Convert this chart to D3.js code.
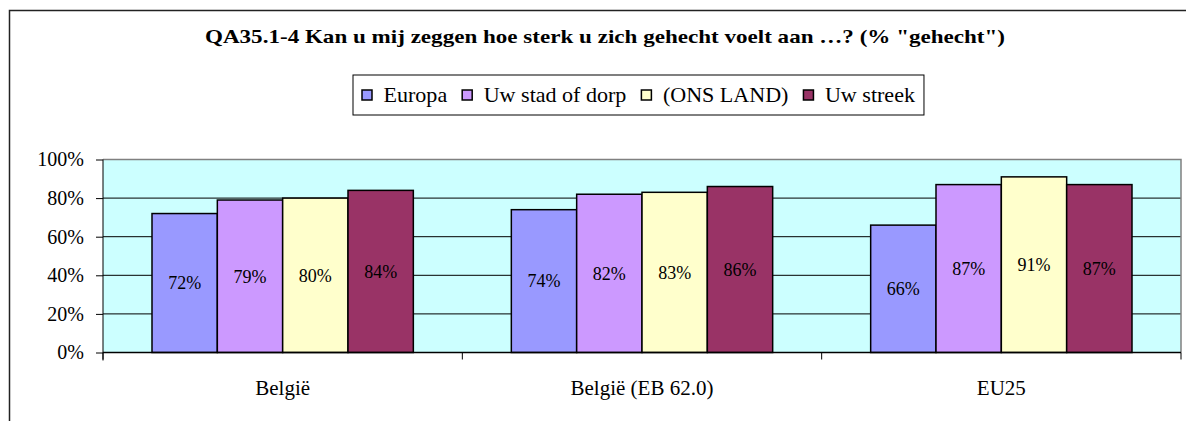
<!DOCTYPE html>
<html>
<head>
<meta charset="utf-8">
<script src="https://cdn.jsdelivr.net/npm/d3@7"></script>
<style>
  body { margin: 0; background: #fff; }
  svg { display: block; font-family: "Liberation Serif", "Times New Roman", serif; }
</style>
</head>
<body>
<div id="chart"></div>
<script>
var categories = ["België", "België (EB 62.0)", "EU25"];
var seriesNames = ["Europa", "Uw stad of dorp", "(ONS LAND)", "Uw streek"];
var seriesColors = ["#9999ff", "#cc99ff", "#ffffcc", "#993366"];
var europa = [72, 74, 66];
var stad = [79, 82, 87];
var land = [80, 83, 91];
var streek = [84, 86, 87];
var yTicks = [0, 20, 40, 60, 80, 100];
var title = "QA35.1-4 Kan u mij zeggen hoe sterk u zich gehecht voelt aan \u2026? (% \"gehecht\")";

var width = 1186, height = 421;
var margin = {left: 103, right: 5, top: 159.5, bottom: 68.5};
var w = width - margin.left - margin.right;
var h = height - margin.top - margin.bottom;

var values = [europa, stad, land, streek];
var rows = categories.map(function (c, i) {
  return {cat: c, vals: values.map(function (s, k) { return {k: k, v: s[i]}; })};
});

var svg = d3.select("#chart").append("svg")
  .attr("width", width)
  .attr("height", height);

// outer frame (runs off the right and bottom edge)
svg.append("rect")
  .attr("x", 9.5).attr("y", 10.5)
  .attr("width", width).attr("height", height)
  .attr("fill", "none").attr("stroke", "#222").attr("stroke-width", 1.5);

// the title is drawn wider than its font, as in the original
svg.append("text")
  .attr("x", 605).attr("y", 43)
  .attr("text-anchor", "middle")
  .attr("font-size", 19).attr("font-weight", "bold")
  .attr("textLength", 800).attr("lengthAdjust", "spacingAndGlyphs")
  .text(title);

var x0 = d3.scaleBand().domain(categories).range([0, w]).padding(0);
var bw = x0.bandwidth() / 5.5;   // gap width 150%
var x1 = d3.scaleBand().domain(d3.range(4)).range([bw * 0.75, bw * 4.75]).padding(0);
var y = d3.scaleLinear().domain([0, 100]).range([h, 0]);

var g = svg.append("g")
  .attr("transform", "translate(" + margin.left + "," + margin.top + ")");

g.append("rect")
  .attr("width", w).attr("height", h)
  .attr("fill", "#ccffff");

// gridlines
g.selectAll(".grid")
  .data(yTicks.filter(function (d) { return d > 0 && d < 100; }))
  .enter().append("line")
  .attr("x1", 0).attr("x2", w)
  .attr("y1", function (d) { return y(d); })
  .attr("y2", function (d) { return y(d); })
  .attr("stroke", "#000").attr("stroke-width", 1);

// top and right border of the plot
g.append("path")
  .attr("d", "M0," + y(100) + "H" + w + "V" + h)
  .attr("fill", "none").attr("stroke", "#808080").attr("stroke-width", 1.5);

var groups = g.selectAll(".grp")
  .data(rows)
  .enter().append("g")
  .attr("transform", function (d) { return "translate(" + x0(d.cat) + ",0)"; });

groups.selectAll("rect")
  .data(function (d) { return d.vals; })
  .enter().append("rect")
  .attr("x", function (d) { return x1(d.k); })
  .attr("y", function (d) { return y(d.v); })
  .attr("width", x1.bandwidth())
  .attr("height", function (d) { return h - y(d.v); })
  .attr("fill", function (d) { return seriesColors[d.k]; })
  .attr("stroke", "#000").attr("stroke-width", 1.5);

groups.selectAll(".lbl")
  .data(function (d) { return d.vals; })
  .enter().append("text")
  .attr("x", function (d) { return x1(d.k) + x1.bandwidth() / 2; })
  .attr("y", function (d) { return (y(d.v) + h) / 2; })
  .attr("dy", "0.35em")
  .attr("text-anchor", "middle")
  .attr("font-size", 18)
  .attr("fill", "#000")
  .text(function (d) { return d.v + "%"; });

// y axis
var yAxis = g.append("g")
  .call(d3.axisLeft(y).tickValues(yTicks).tickSize(7).tickPadding(12)
    .tickFormat(function (d) { return d + "%"; }));
yAxis.select(".domain").attr("d", "M0," + y(100) + "V" + (h + 8));
yAxis.selectAll("text").attr("font-size", 20).attr("font-family", "Liberation Serif").attr("fill", "#000");
yAxis.selectAll("line").attr("stroke", "#000");

// x axis
var xAxis = g.append("g")
  .attr("transform", "translate(0," + h + ")");
xAxis.append("line")
  .attr("x1", 0).attr("x2", w)
  .attr("stroke", "#000").attr("stroke-width", 1.5);
xAxis.selectAll(".tk")
  .data(d3.range(categories.length + 1))
  .enter().append("line")
  .attr("x1", function (i) { return i * x0.bandwidth(); })
  .attr("x2", function (i) { return i * x0.bandwidth(); })
  .attr("y1", 0).attr("y2", 7)
  .attr("stroke", "#000");
xAxis.selectAll(".cat")
  .data(categories)
  .enter().append("text")
  .attr("x", function (d) { return x0(d) + x0.bandwidth() / 2; })
  .attr("y", 42)
  .attr("text-anchor", "middle")
  .attr("font-size", 21)
  .text(function (d) { return d; });

// legend
var legend = svg.append("g");
var box = legend.append("rect")
  .attr("fill", "#fff").attr("stroke", "#000").attr("stroke-width", 1);
var cx = 0;
seriesNames.forEach(function (name, k) {
  legend.append("rect")
    .attr("x", cx).attr("y", -5)
    .attr("width", 10).attr("height", 10)
    .attr("fill", seriesColors[k]).attr("stroke", "#000").attr("stroke-width", 1.5);
  var t = legend.append("text")
    .attr("x", cx + 21.5).attr("y", 0)
    .attr("dy", "0.35em")
    .attr("font-size", 21)
    .text(name);
  // legend text is a little wider in the original
  var tw = t.node().getComputedTextLength() * 1.05;
  t.attr("textLength", tw).attr("lengthAdjust", "spacingAndGlyphs");
  cx += 21.5 + tw + 15;
});
var legW = cx - 15 + 18;
box.attr("x", -9).attr("y", -20).attr("width", legW).attr("height", 40);
legend.attr("transform", "translate(362,95)");
</script>
</body>
</html>
